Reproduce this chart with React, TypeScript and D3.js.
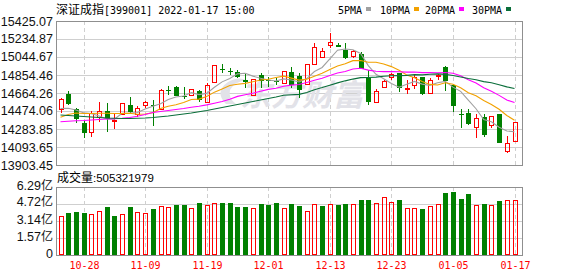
import React from "react";
import * as d3 from "d3";

const dates = [
  "10-25","10-26","10-27","10-28","10-29","11-01","11-02","11-03","11-04","11-05",
  "11-08","11-09","11-10","11-11","11-12","11-15","11-16","11-17","11-18","11-19",
  "11-22","11-23","11-24","11-25","11-26","11-29","11-30","12-01","12-02","12-03",
  "12-06","12-07","12-08","12-09","12-10","12-13","12-14","12-15","12-16","12-17",
  "12-20","12-21","12-22","12-23","12-24","12-27","12-28","12-29","12-30","12-31",
  "01-04","01-05","01-06","01-07","01-10","01-11","01-12","01-13","01-14","01-17",
];

const opens = [
  14495.2, 14650.5, 14495.2, 14350.4, 14246.9, 14407.5, 14474.1, 14373.7, 14447.6, 14537.5,
  14439.2, 14539.6, 14532.2, 14495.2, 14690.7, 14724.5, 14629.4, 14643.1, 14685.4, 14572.3,
  14783.7, 14920.0, 14896.7, 14889.3, 14801.6, 14637.9, 14854.5, 14798.5, 14785.8, 14775.2,
  14880.9, 14843.9, 14754.1, 14970.7, 15047.9, 15171.5, 15171.5, 15118.6, 15058.4, 15076.4,
  14819.6, 14566.0, 14730.8, 14833.3, 14875.6, 14713.9, 14745.6, 14830.2, 14661.1, 14843.9,
  14942.2, 14752.0, 14439.2, 14456.1, 14308.2, 14405.4, 14331.4, 14442.4, 14054.6, 14162.3,
];
const closes = [
  14600.9, 14548.0, 14389.5, 14244.8, 14449.8, 14474.1, 14389.5, 14379.0, 14555.4, 14466.7,
  14502.6, 14569.2, 14523.7, 14696.0, 14685.4, 14635.7, 14622.0, 14703.4, 14590.3, 14748.8,
  14960.1, 14907.3, 14880.9, 14833.3, 14780.5, 14810.1, 14794.2, 14789.0, 14778.4, 14893.6,
  14748.8, 14696.0, 14968.6, 15147.2, 15111.3, 15206.4, 15147.2, 15030.9, 15111.3, 14914.7,
  14566.0, 14688.6, 14793.2, 14861.9, 14720.3, 14719.2, 14836.5, 14653.7, 14796.4, 14857.6,
  14793.2, 14530.1, 14431.8, 14336.7, 14396.9, 14220.5, 14418.1, 14139.1, 14141.2, 14357.8,
];
const highs = [
  14606.2, 14685.4, 14505.8, 14368.4, 14468.8, 14566.0, 14555.4, 14449.8, 14558.6, 14625.2,
  14526.9, 14585.0, 14590.3, 14711.8, 14733.0, 14743.5, 14727.7, 14706.5, 14690.7, 14764.7,
  14965.4, 14967.5, 14925.3, 14907.3, 14872.4, 14812.2, 14878.8, 14836.5, 14825.9, 14896.7,
  14942.2, 14872.4, 14970.7, 15189.4, 15136.6, 15295.1, 15189.4, 15189.4, 15113.4, 15100.7,
  14907.3, 14703.4, 14801.6, 14878.8, 14878.8, 14801.6, 14859.8, 14833.3, 14822.8, 14870.3,
  14944.3, 14754.1, 14497.3, 14497.3, 14442.4, 14447.6, 14421.2, 14444.5, 14209.9, 14363.1,
];
const lows = [
  14458.2, 14532.2, 14352.5, 14194.0, 14204.6, 14357.8, 14246.9, 14283.9, 14442.4, 14437.1,
  14405.4, 14505.8, 14310.3, 14484.6, 14643.1, 14632.6, 14595.6, 14632.6, 14563.9, 14561.8,
  14780.5, 14872.4, 14854.5, 14822.8, 14713.9, 14632.6, 14717.1, 14727.7, 14748.8, 14769.9,
  14713.9, 14608.3, 14748.8, 14960.1, 15030.9, 15136.6, 15145.1, 15028.8, 15030.9, 14912.6,
  14537.5, 14558.6, 14713.9, 14801.6, 14678.0, 14653.7, 14706.5, 14643.1, 14659.0, 14801.6,
  14685.4, 14466.7, 14294.4, 14331.4, 14194.0, 14202.5, 14299.7, 14135.9, 14030.2, 14160.2,
];

const volumes = [
  3.60e8, 3.88e8, 4.00e8, 3.88e8, 3.76e8, 4.06e8, 4.43e8, 3.60e8, 3.76e8, 4.43e8,
  3.97e8, 3.88e8, 4.25e8, 4.50e8, 4.40e8, 4.62e8, 4.62e8, 4.34e8, 4.80e8, 4.62e8,
  4.80e8, 4.80e8, 4.80e8, 4.43e8, 4.43e8, 4.34e8, 4.71e8, 4.62e8, 4.80e8, 4.34e8,
  4.71e8, 4.52e8, 4.06e8, 4.68e8, 4.52e8, 4.68e8, 4.62e8, 4.71e8, 4.68e8, 5.08e8,
  5.08e8, 4.77e8, 5.33e8, 4.90e8, 5.08e8, 4.31e8, 4.31e8, 4.25e8, 4.50e8, 4.68e8,
  5.73e8, 5.82e8, 5.17e8, 5.63e8, 4.59e8, 4.71e8, 4.59e8, 4.99e8, 5.05e8, 505321979,
];
// r = red hollow bar, g = green solid bar
const volumeDirs = [
  "r","g","g","g","r","r","g","g","r","g",
  "r","r","g","r","r","g","g","r","g","r",
  "r","g","g","g","g","r","g","g","g","r",
  "g","g","r","r","g","r","g","g","r","g",
  "g","r","r","r","g","r","r","g","r","r",
  "g","g","g","g","r","g","r","g","r","r",
];

// moving-average values for the first candles (their window starts before the shown range)
const ma5Lead = [14500.5, 14502.6, 14484.6, 14456.1];
const ma10Lead = [14407.5, 14437.1, 14452.9, 14447.6, 14447.6, 14449.8, 14449.8, 14447.6, 14447.6];
const ma20Lead = [
  14361.0, 14365.2, 14370.5, 14373.7, 14379.0, 14384.2, 14389.5, 14392.7, 14396.9, 14405.4,
  14418.1, 14437.1, 14458.2, 14468.8, 14479.3, 14489.9, 14500.5, 14513.2, 14524.8,
];
const ma30Lead = [
  14431.8, 14426.5, 14421.2, 14415.9, 14410.7, 14405.4, 14400.1, 14396.9, 14394.8, 14394.8,
  14396.9, 14400.1, 14405.4, 14412.8, 14421.2, 14431.8, 14442.4, 14452.9, 14465.6, 14479.3,
  14495.2, 14511.1, 14526.9, 14542.7, 14558.6, 14574.4, 14590.3, 14606.2, 14622.0,
];

const priceTicks = [15425.07, 15234.87, 15044.67, 14854.46, 14664.26, 14474.06, 14283.85, 14093.65, 13903.45];
const volumeTicks = [6.29e8, 4.72e8, 3.14e8, 1.57e8, 0];
const volumeTickLabels = ["6.29", "4.72", "3.14", "1.57", "0"];
const xTickLabels = ["10-28", "11-09", "11-19", "12-01", "12-13", "12-23", "01-05", "01-17"];

const maNames = ["5PMA", "10PMA", "20PMA", "30PMA"];
const maPeriods = [5, 10, 20, 30];
const maColors = ["#a0a0a0", "#f2a100", "#ff00ff", "#0a6e3a"];

const RED = "#ff0000";
const GREEN = "#008000";
const MONO = "'DejaVu Sans Mono', 'Liberation Mono', monospace";
const SANS = "'Liberation Sans', Arial, sans-serif";
const CJK = "'Noto Sans CJK SC', sans-serif";

export default function App() {
  const L = 56, R = 522;
  const mTop = 21, mBot = 165;
  const vTop = 187, vBot = 255;

  const x = d3.scalePoint<string>().domain(dates).range([60.5, 514.5]);
  const y = d3.scaleLinear().domain([13903.45, 15425.07]).range([mBot, mTop]);
  const yv = d3.scaleLinear().domain([0, 6.29e8]).range([vBot, vTop]);

  const leads = [ma5Lead, ma10Lead, ma20Lead, ma30Lead];
  const maSeries = maPeriods.map((n, k) =>
    closes.map((c, i) => (i < n - 1 ? leads[k][i] : (d3.mean(closes.slice(i - n + 1, i + 1)) as number)))
  );
  const line = d3
    .line<number>()
    .x((_, i) => x(dates[i]) as number)
    .y((d) => y(d));

  const cx = (i: number) => Math.round(x(dates[i]) as number);
  const legendStarts = [338, 380, 425, 472];

  return (
    <svg width={578} height={276} style={{ position: "absolute", left: 0, top: 0, background: "#fff" }}>
      <rect x={0} y={0} width={578} height={276} fill="#fff" />
      {/* title */}
      <text x={56} y={13.5} fontSize={12} fill="#000">
        <tspan fontFamily={CJK}>深证成指</tspan>
        <tspan fontFamily={MONO} fontSize={10}>[399001] 2022-01-17 15:00</tspan>
      </text>
      {/* legend */}
      {maNames.map((nm, k) => {
        const w = nm.length * 6;
        return (
          <g key={nm}>
            <text x={legendStarts[k]} y={13.5} fontFamily={MONO} fontSize={10} fill="#000">{nm}</text>
            <rect x={legendStarts[k] + w + 4} y={7} width={5} height={4} fill={maColors[k]} />
          </g>
        );
      })}

      {/* main grid */}
      {priceTicks.slice(1, -1).map((t) => (
        <line key={t} x1={L} x2={R} y1={Math.round(y(t)) + 0.5} y2={Math.round(y(t)) + 0.5} stroke="#cfcfcf" strokeWidth={1} />
      ))}
      {xTickLabels.map((d) => (
        <line key={"vg" + d} x1={cx(dates.indexOf(d)) + 0.5} x2={cx(dates.indexOf(d)) + 0.5} y1={mTop} y2={mBot} stroke="#cfcfcf" strokeDasharray="4,3" />
      ))}
      {/* watermark */}
      <g fill="#e2e2e8">
        <path d="M 226 104 Q 214 92 228 82 Q 238 76 246 80 Q 234 82 230 90 Q 228 98 236 104 Z" />
        <text x={240} y={106} fontFamily={CJK} fontSize={30} fontWeight="bold" fontStyle="italic" textLength={124} lengthAdjust="spacingAndGlyphs">东方财富</text>
      </g>

      {/* candles */}
      {dates.map((d, i) => {
        const c = cx(i);
        const up = closes[i] >= opens[i];
        const yo = y(opens[i]);
        const yc = y(closes[i]);
        const top = Math.round(Math.min(yo, yc));
        const bot = Math.round(Math.max(yo, yc));
        const yh = Math.round(y(highs[i]));
        const yl = Math.round(y(lows[i]));
        if (up) {
          return (
            <g key={d} shapeRendering="crispEdges">
              {yh < top && <line x1={c + 0.5} x2={c + 0.5} y1={yh} y2={top} stroke={RED} />}
              {yl > bot && <line x1={c + 0.5} x2={c + 0.5} y1={bot} y2={yl} stroke={RED} />}
              <rect x={c - 1.5} y={top + 0.5} width={4} height={Math.max(bot - top, 1)} fill="none" stroke={RED} />
            </g>
          );
        }
        return (
          <g key={d} shapeRendering="crispEdges">
            <line x1={c + 0.5} x2={c + 0.5} y1={yh} y2={yl} stroke={GREEN} />
            <rect x={c - 2} y={top} width={5} height={Math.max(bot - top, 1)} fill={GREEN} />
          </g>
        );
      })}

      {/* MA lines */}
      {maSeries.map((s, k) => (
        <path key={maNames[k]} d={line(s) as string} fill="none" stroke={maColors[k]} strokeWidth={1.1} />
      ))}

      {/* main frame */}
      <rect x={L + 0.5} y={mTop + 0.5} width={R - L} height={mBot - mTop} fill="none" stroke="#8f8f8f" strokeWidth={1} shapeRendering="crispEdges" />

      {/* price labels */}
      {priceTicks.map((t) => (
        <text key={"pl" + t} x={53} y={y(t) + 4.5} textAnchor="end" fontFamily={SANS} fontSize={12.5} fill="#111">
          {t.toFixed(2)}
        </text>
      ))}

      {/* volume title */}
      <text x={57} y={182} fill="#000">
        <tspan fontFamily={CJK} fontSize={12}>成交量</tspan>
        <tspan fontFamily={SANS} fontSize={11.5}>:{volumes[volumes.length - 1]}</tspan>
      </text>

      {/* volume grid */}
      {volumeTicks.slice(1, -1).map((t) => (
        <line key={"vt" + t} x1={L} x2={R} y1={Math.round(yv(t)) + 0.5} y2={Math.round(yv(t)) + 0.5} stroke="#cfcfcf" />
      ))}
      {xTickLabels.map((d) => (
        <line key={"vvg" + d} x1={cx(dates.indexOf(d)) + 0.5} x2={cx(dates.indexOf(d)) + 0.5} y1={vTop} y2={vBot} stroke="#cfcfcf" strokeDasharray="4,3" />
      ))}

      {/* volume bars */}
      {volumes.map((v, i) => {
        const c = cx(i);
        const top = Math.round(yv(v));
        if (volumeDirs[i] === "r") {
          return (
            <rect key={"v" + i} x={c - 1.5} y={top + 0.5} width={4} height={vBot - top - 1} fill="none" stroke={RED} shapeRendering="crispEdges" />
          );
        }
        return <rect key={"v" + i} x={c - 2} y={top} width={5} height={vBot - top} fill={GREEN} shapeRendering="crispEdges" />;
      })}

      <rect x={L + 0.5} y={vTop + 0.5} width={R - L} height={vBot - vTop} fill="none" stroke="#8f8f8f" shapeRendering="crispEdges" />

      {/* volume labels */}
      {volumeTicks.map((t, k) => (
        <text key={"vl" + t} x={53} y={yv(t) + 2.5} textAnchor="end" fontSize={12.5} fill="#111">
          <tspan fontFamily={SANS}>{volumeTickLabels[k]}</tspan>
          {t > 0 && <tspan fontFamily={CJK} fontSize={12}>亿</tspan>}
        </text>
      ))}

      {/* x labels */}
      {xTickLabels.map((d) => (
        <text key={"xl" + d} x={cx(dates.indexOf(d)) + 0.5} y={269} textAnchor="middle" fontFamily={MONO} fontSize={10} fill={RED}>
          {d}
        </text>
      ))}
    </svg>
  );
}
